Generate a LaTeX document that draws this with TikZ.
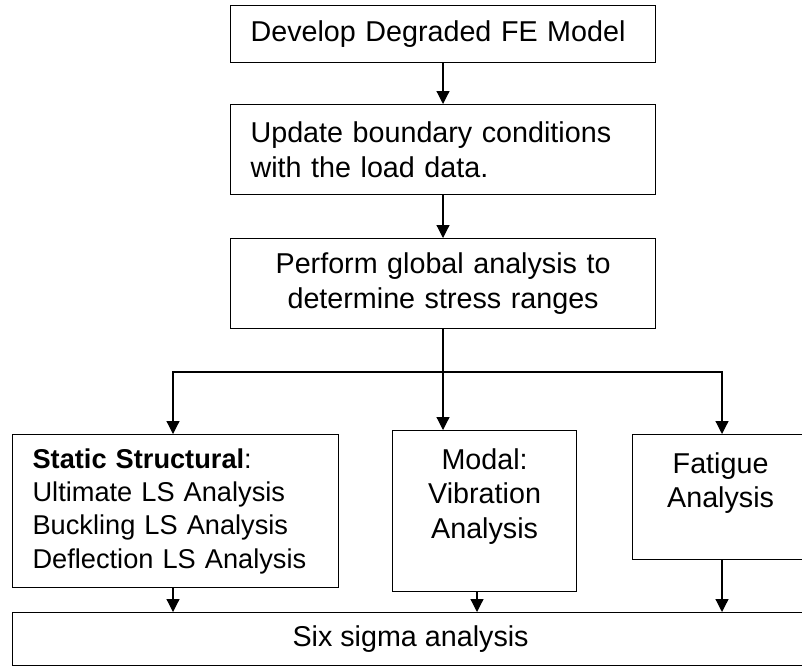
\documentclass[tikz,border=0pt]{standalone}
\usepackage{fontspec}
\setmainfont{Liberation Sans}
\usetikzlibrary{arrows.meta}

\tikzset{
  box/.style={draw=black, line width=1.2pt, rectangle, anchor=north west,
    inner xsep=20pt, inner ysep=0pt,
    font=\fontsize{28.7}{35}\selectfont},
  flow/.style={draw=black, line width=1.2pt, -{Triangle[width=13pt,length=13pt]}},
  boxtext/.style={anchor=north, inner sep=0pt, align=center,
    font=\fontsize{28.7}{34.5}\selectfont}
}

\begin{document}
\begin{tikzpicture}[x=1pt, y=-1pt]
  \useasboundingbox (0,0) rectangle (802,667);
  \clip (0,0) rectangle (802,667);

  % main column
  \node[box, text width=385pt, align=left, minimum height=57pt] (b1) at (230,5)
    {Develop Degraded FE Model};
  \node[box, text width=385pt, align=left, minimum height=90pt] (b2) at (230,104)
    {Update boundary conditions\\with the load data.};
  \node[box, text width=385pt, align=center, minimum height=90pt] (b3) at (230,238)
    {Perform global analysis to\\determine stress ranges};

  % three analyses
  \node[box, text width=286pt, align=left, minimum height=153pt,
        font=\fontsize{27.2}{33.3}\selectfont] (b4) at (12,434)
    {\textbf{Static Structural}:\\Ultimate LS Analysis\\Buckling LS Analysis\\Deflection LS Analysis};
  \node[box, minimum width=184pt, minimum height=161pt] (b5) at (392,430) {};
  \node[boxtext] (t5) at ([yshift=-18pt]b5.north) {Modal:\\Vibration\\Analysis};
  \node[box, minimum width=176pt, minimum height=125pt] (b6) at (632,434) {};
  \node[boxtext] (t6) at ([yshift=-18pt]b6.north) {Fatigue\\Analysis};

  % final step
  \node[box, minimum width=796pt, minimum height=53pt] (b7) at (12,612)
    {Six sigma analysis};

  % connector columns
  \coordinate (spine) at (443,0);
  \coordinate (split) at (443,372);
  \coordinate (c4) at (173,0);
  \coordinate (c5) at (477,0);
  \coordinate (c6) at (722,0);

  \draw[flow] (b1.south -| spine) -- (b2.north -| spine);
  \draw[flow] (b2.south -| spine) -- (b3.north -| spine);
  \draw[line width=1.2pt] (b3.south -| spine) -- (split);
  \draw[flow] (split) -| (b4.north -| c4);
  \draw[flow] (split) -- (b5.north -| split);
  \draw[flow] (split) -| (b6.north -| c6);

  \draw[flow] (b4.south -| c4) -- (b7.north -| c4);
  \draw[flow] (b5.south -| c5) -- (b7.north -| c5);
  \draw[flow] (b6.south -| c6) -- (b7.north -| c6);
\end{tikzpicture}
\end{document}
